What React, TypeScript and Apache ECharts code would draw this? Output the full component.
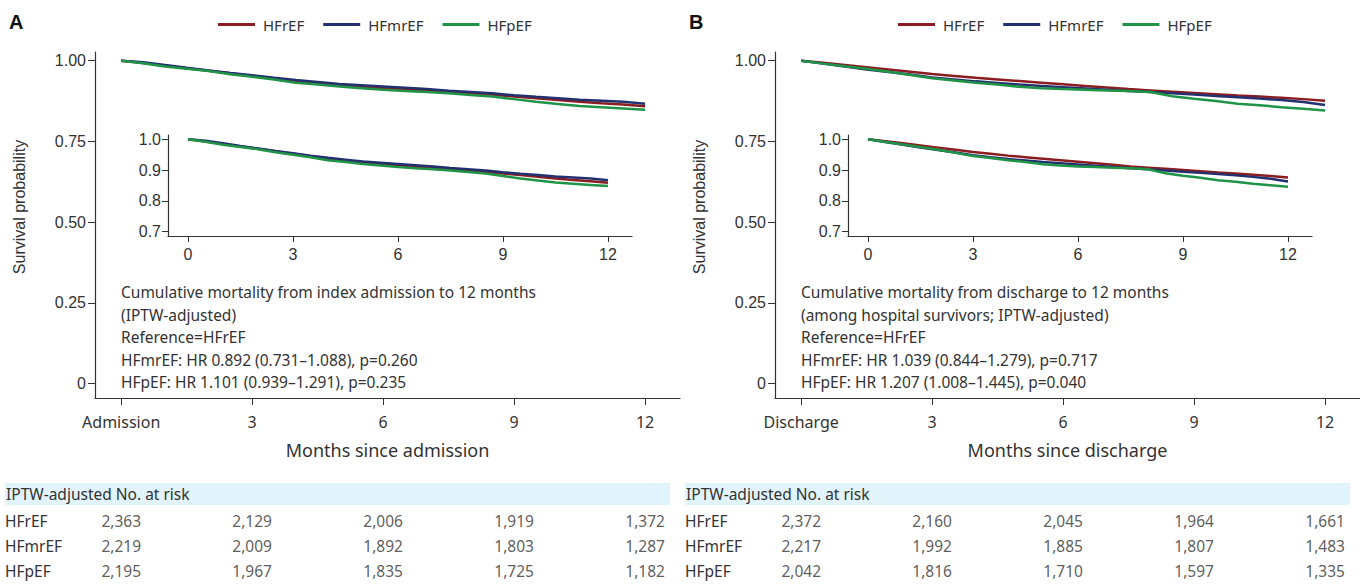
import React, { useEffect, useRef } from "react";
import * as echarts from "echarts";

// ---------- data ----------
const months = [0, 0.5, 1, 1.5, 2, 2.5, 3, 3.5, 4, 4.5, 5, 5.5, 6, 6.5, 7, 7.5, 8, 8.5, 9, 9.5, 10, 10.5, 11, 11.5, 12];
const groups = ["HFrEF", "HFmrEF", "HFpEF"];

// Panel A: from index admission
const admHFrEF = [1.0, 0.993, 0.985, 0.977, 0.969, 0.961, 0.953, 0.945, 0.937, 0.931, 0.925, 0.92, 0.915, 0.911, 0.907, 0.903, 0.899, 0.895, 0.889, 0.884, 0.878, 0.873, 0.868, 0.864, 0.859];
const admHFmrEF = [1.0, 0.995, 0.987, 0.978, 0.97, 0.962, 0.955, 0.947, 0.94, 0.934, 0.928, 0.924, 0.92, 0.916, 0.912, 0.907, 0.903, 0.899, 0.893, 0.888, 0.884, 0.879, 0.876, 0.873, 0.867];
const admHFpEF = [1.0, 0.992, 0.982, 0.975, 0.968, 0.958, 0.95, 0.942, 0.932, 0.926, 0.92, 0.915, 0.91, 0.906, 0.903, 0.899, 0.894, 0.889, 0.881, 0.873, 0.866, 0.86, 0.856, 0.852, 0.848];

// Panel B: from discharge
const disHFrEF = [1.0, 0.994, 0.987, 0.98, 0.973, 0.966, 0.959, 0.953, 0.947, 0.942, 0.937, 0.932, 0.927, 0.922, 0.917, 0.912, 0.908, 0.904, 0.9, 0.896, 0.892, 0.889, 0.885, 0.881, 0.876];
const disHFmrEF = [1.0, 0.991, 0.982, 0.973, 0.965, 0.957, 0.948, 0.942, 0.936, 0.931, 0.926, 0.922, 0.918, 0.914, 0.91, 0.906, 0.903, 0.899, 0.895, 0.891, 0.887, 0.883, 0.878, 0.872, 0.863];
const disHFpEF = [1.0, 0.991, 0.983, 0.975, 0.966, 0.956, 0.946, 0.939, 0.932, 0.926, 0.919, 0.915, 0.912, 0.91, 0.908, 0.906, 0.903, 0.89, 0.882, 0.875, 0.867, 0.862, 0.856, 0.851, 0.846];

// Numbers at risk
const riskTimes = [0, 3, 6, 9, 12];
const riskAdmHFrEF = [2363, 2129, 2006, 1919, 1372];
const riskAdmHFmrEF = [2219, 2009, 1892, 1803, 1287];
const riskAdmHFpEF = [2195, 1967, 1835, 1725, 1182];
const riskDisHFrEF = [2372, 2160, 2045, 1964, 1661];
const riskDisHFmrEF = [2217, 1992, 1885, 1807, 1483];
const riskDisHFpEF = [2042, 1816, 1710, 1597, 1335];

// Ticks
const mainYTicks = [0, 0.25, 0.5, 0.75, 1];
const insetYTicks = [0.7, 0.8, 0.9, 1.0];
const xTicks = [0, 3, 6, 9, 12];

// Annotations
const notesA = [
  "Cumulative mortality from index admission to 12 months",
  "(IPTW-adjusted)",
  "Reference=HFrEF",
  "HFmrEF: HR 0.892 (0.731\u20131.088), p=0.260",
  "HFpEF: HR 1.101 (0.939\u20131.291), p=0.235",
];
const notesB = [
  "Cumulative mortality from discharge to 12 months",
  "(among hospital survivors; IPTW-adjusted)",
  "Reference=HFrEF",
  "HFmrEF: HR 1.039 (0.844\u20131.279), p=0.717",
  "HFpEF: HR 1.207 (1.008\u20131.445), p=0.040",
];

const colors = ["#8b1c1f", "#23306f", "#1f9446"];
const AX = "#333333";
const ARIAL = '"Liberation Sans", Arial, sans-serif';
const NOTO = '"Noto Sans", sans-serif';

const panels = [
  { ox: 0, letter: "A", start: "Admission", xname: "Months since admission", surv: [admHFrEF, admHFmrEF, admHFpEF], risk: [riskAdmHFrEF, riskAdmHFmrEF, riskAdmHFpEF], notes: notesA },
  { ox: 680, letter: "B", start: "Discharge", xname: "Months since discharge", surv: [disHFrEF, disHFmrEF, disHFpEF], risk: [riskDisHFrEF, riskDisHFmrEF, riskDisHFpEF], notes: notesB },
];

function buildOption() {
  const grid: any[] = [];
  const xAxis: any[] = [];
  const yAxis: any[] = [];
  const series: any[] = [];
  const graphic: any[] = [];
  const legend: any[] = [];

  panels.forEach((p) => {
    const gi = grid.length;
    // main
    grid.push({ left: p.ox + 95, top: 52, width: 585, height: 346, containLabel: false });
    xAxis.push({
      type: "value", gridIndex: gi, min: -0.6, max: 12.8,
      axisLine: { show: true, onZero: false, lineStyle: { color: AX, width: 1.2 } },
      axisTick: { show: true, customValues: xTicks, length: 7, lineStyle: { color: AX } },
      axisLabel: { customValues: xTicks, formatter: (v: number) => (v === 0 ? p.start : String(v)), fontFamily: NOTO, fontSize: 16, color: AX, margin: 16 },
      splitLine: { show: false },
      name: p.xname, nameLocation: "middle", nameGap: 43,
      nameTextStyle: { fontFamily: NOTO, fontSize: 18, color: AX },
    });
    yAxis.push({
      type: "value", gridIndex: gi, min: -0.045, max: 1.027,
      axisLine: { show: true, onZero: false, lineStyle: { color: AX, width: 1.2 } },
      axisTick: { show: true, customValues: mainYTicks, length: 7, lineStyle: { color: AX } },
      axisLabel: { customValues: mainYTicks, formatter: (v: number) => (v === 0 ? "0" : v.toFixed(2)), fontFamily: ARIAL, fontSize: 16, color: AX, margin: 9 },
      splitLine: { show: false },
    });
    // inset
    grid.push({ left: p.ox + 168, top: 135, width: 464, height: 101 });
    xAxis.push({
      type: "value", gridIndex: gi + 1, min: -0.571, max: 12.686,
      axisLine: { show: true, onZero: false, lineStyle: { color: AX, width: 1.2 } },
      axisTick: { show: true, customValues: xTicks, length: 6, lineStyle: { color: AX } },
      axisLabel: { customValues: xTicks, fontFamily: ARIAL, fontSize: 16, color: AX, margin: 10 },
      splitLine: { show: false },
    });
    yAxis.push({
      type: "value", gridIndex: gi + 1, min: 0.686, max: 1.014,
      axisLine: { show: true, onZero: false, lineStyle: { color: AX, width: 1.2 } },
      axisTick: { show: true, customValues: insetYTicks, length: 6, lineStyle: { color: AX } },
      axisLabel: { customValues: insetYTicks, formatter: (v: number) => v.toFixed(1), fontFamily: ARIAL, fontSize: 16, color: AX, margin: 7 },
      splitLine: { show: false },
    });
    // risk table
    grid.push({ left: p.ox + 95, top: 508, width: 585, height: 75 });
    xAxis.push({ type: "value", gridIndex: gi + 2, min: -0.6, max: 12.8, show: false });
    yAxis.push({
      type: "category", gridIndex: gi + 2, data: groups, inverse: true,
      axisLine: { show: false }, axisTick: { show: false },
      axisLabel: { align: "left", margin: 90, fontFamily: NOTO, fontSize: 15.5, color: AX },
      splitLine: { show: false },
    });

    groups.forEach((g, k) => {
      const line = {
        type: "line", name: g, showSymbol: false, symbol: "none", smooth: false,
        lineStyle: { width: 2.5, color: colors[k] }, itemStyle: { color: colors[k] },
        silent: true,
      };
      series.push({ ...line, xAxisIndex: gi, yAxisIndex: gi, data: months.map((m, i) => [m, p.surv[k][i]]) });
      series.push({ ...line, xAxisIndex: gi + 1, yAxisIndex: gi + 1, data: months.map((m, i) => [m, p.surv[k][i]]) });
    });
    series.push({
      type: "scatter", xAxisIndex: gi + 2, yAxisIndex: gi + 2, symbolSize: 1, silent: true,
      itemStyle: { color: "rgba(0,0,0,0)" },
      data: groups.flatMap((g, k) => riskTimes.map((t, i) => [t, g, p.risk[k][i]])),
      label: {
        show: true, position: "inside", color: AX, fontFamily: NOTO, fontSize: 15.5,
        formatter: (d: any) => Number(d.value[2]).toLocaleString("en-US"),
      },
    });

    legend.push({
      data: groups, left: p.ox + 213, top: 12, icon: "rect", itemWidth: 37, itemHeight: 3, itemGap: 19,
      selectedMode: false,
      textStyle: { fontFamily: NOTO, fontSize: 15, color: AX, padding: [0, 0, 0, 3] },
    });

    graphic.push({ type: "text", x: p.ox + 9, y: 22, style: { text: p.letter, font: 'bold 20px "Liberation Sans", Arial', fill: "#111", align: "left", verticalAlign: "middle" } });
    graphic.push({ type: "text", x: p.ox + 19, y: 207, rotation: Math.PI / 2, style: { text: "Survival probability", font: '16px "Liberation Sans", Arial', fill: AX, align: "center", verticalAlign: "middle" } });
    p.notes.forEach((t, i) => {
      graphic.push({ type: "text", x: p.ox + 121, y: 292 + i * 22.5, style: { text: t, font: '15.5px "Noto Sans"', fill: AX, align: "left", verticalAlign: "middle" } });
    });
    graphic.push({ type: "rect", shape: { x: p.ox + 5, y: 483, width: 665, height: 22 }, style: { fill: "#e2f4fb" }, z: -1 });
    graphic.push({ type: "text", x: p.ox + 6, y: 494, style: { text: "IPTW-adjusted No. at risk", font: '15.5px "Noto Sans"', fill: AX, align: "left", verticalAlign: "middle" } });
  });

  return { animation: false, backgroundColor: "#ffffff", grid, xAxis, yAxis, series, graphic, legend };
}

export default function App() {
  const ref = useRef<HTMLDivElement>(null);
  useEffect(() => {
    if (!ref.current) return;
    const chart = echarts.init(ref.current, undefined, { renderer: "svg" });
    chart.setOption(buildOption() as any);
    return () => chart.dispose();
  }, []);
  return <div ref={ref} style={{ position: "fixed", left: 0, top: 0, width: 1360, height: 585, background: "#fff" }} />;
}
